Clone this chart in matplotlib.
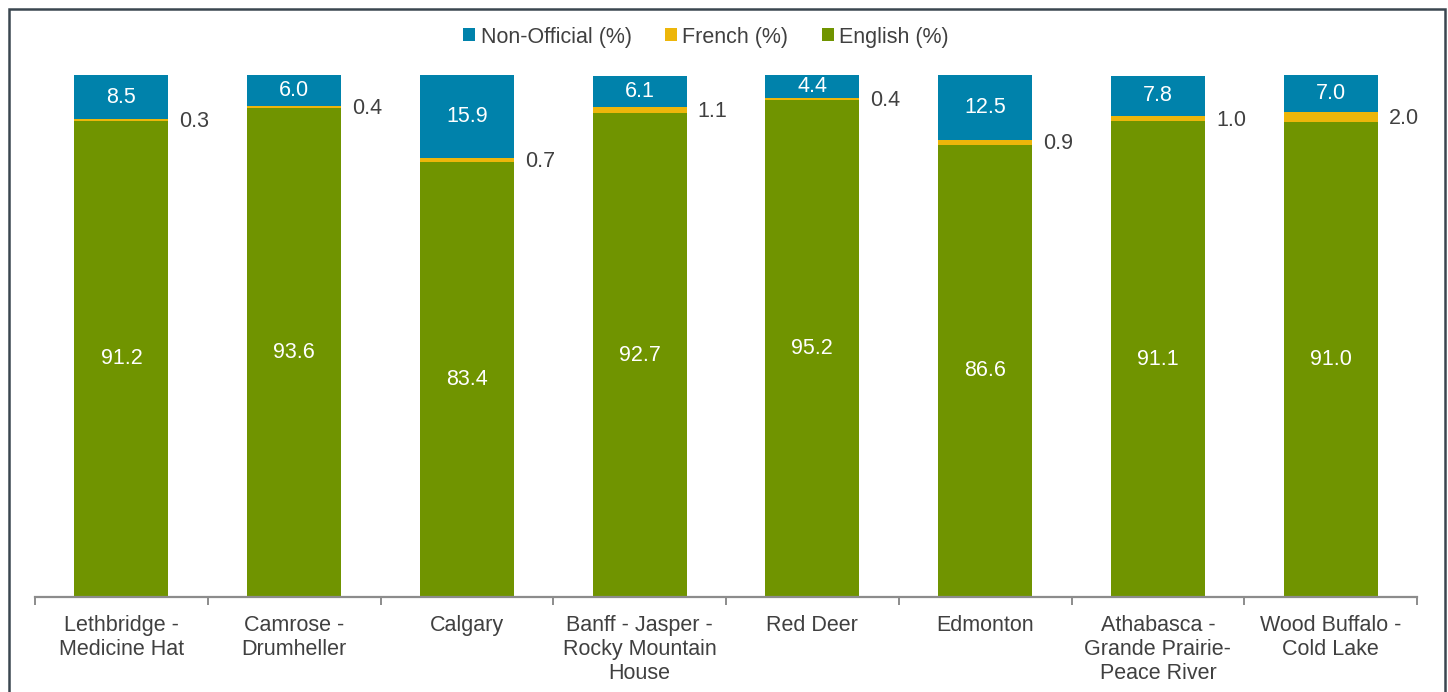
import numpy as np
import matplotlib.pyplot as plt
import matplotlib as mpl
from matplotlib.patches import Rectangle

mpl.rc('font', family=['Liberation Sans', 'DejaVu Sans'])

regions = ['Lethbridge -\nMedicine Hat', 'Camrose -\nDrumheller', 'Calgary',
           'Banff - Jasper -\nRocky Mountain\nHouse', 'Red Deer', 'Edmonton',
           'Athabasca -\nGrande Prairie-\nPeace River', 'Wood Buffalo -\nCold Lake']
english = [91.2, 93.6, 83.4, 92.7, 95.2, 86.6, 91.1, 91.0]
french = [0.3, 0.4, 0.7, 1.1, 0.4, 0.9, 1.0, 2.0]
non_official = [8.5, 6.0, 15.9, 6.1, 4.4, 12.5, 7.8, 7.0]

c_eng = '#709400'
c_fr = '#EDB60A'
c_non = '#0082AB'
txt = '#404040'
fs = 15.5

W, H = 1448, 692
fig = plt.figure(figsize=(W/100, H/100), dpi=100)
ax = fig.add_axes([35/W, (H-597)/H, (1417-35)/W, (597-75)/H])

x = np.arange(len(regions))
eng = np.array(english)
fr = np.array(french)
non = np.array(non_official)
w = 0.545

b1 = ax.bar(x, eng, w, color=c_eng, label='English (%)')
b2 = ax.bar(x, fr, w, bottom=eng, color=c_fr, label='French (%)')
b3 = ax.bar(x, non, w, bottom=eng+fr, color=c_non, label='Non-Official (%)')

for i in range(len(x)):
    ax.text(x[i], eng[i]/2, f'{eng[i]:.1f}', ha='center', va='center',
            color='white', fontsize=fs)
    ax.text(x[i], eng[i]+fr[i]+non[i]/2, f'{non[i]:.1f}', ha='center', va='center',
            color='white', fontsize=fs)
    ax.annotate(f'{fr[i]:.1f}', (x[i]+w/2, eng[i]+fr[i]/2), xytext=(8, -1),
                textcoords='offset points', ha='left', va='center',
                color=txt, fontsize=fs)

ax.set_xlim(-0.5, len(x)-0.5)
ax.set_ylim(0, 100)
ax.set_yticks([])
for s in ['top', 'right', 'left']:
    ax.spines[s].set_visible(False)
ax.spines['bottom'].set_color('#8c8c8c')
ax.spines['bottom'].set_linewidth(1.6)

ax.set_xticks(x)
ax.set_xticklabels(regions, fontsize=fs, color=txt, linespacing=1.2)
ax.tick_params(axis='x', which='major', length=0, pad=13)
ax.set_xticks(np.arange(-0.5, len(x), 1), minor=True)
ax.tick_params(axis='x', which='minor', length=6, width=1.4, color='#8c8c8c',
               direction='out')

fig.legend([b3, b2, b1], ['Non-Official (%)', 'French (%)', 'English (%)'],
           loc='center', bbox_to_anchor=(706/W, 1-37/H), ncol=3, frameon=False,
           fontsize=fs, handlelength=0.55, handleheight=0.55, handletextpad=0.25,
           columnspacing=1.55, labelcolor=txt)

fig.add_artist(Rectangle((8.5/W, -0.1), (1445-8.5)/W, 1.1-8.5/H, transform=fig.transFigure,
                         fill=False, edgecolor='#3a4650', linewidth=1.8))

plt.savefig('out.png', dpi=100)
